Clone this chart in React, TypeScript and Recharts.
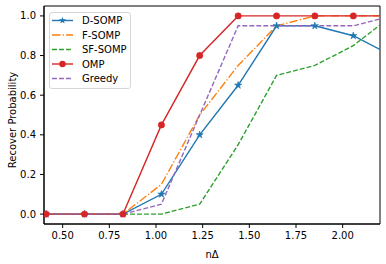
import React from "react";
import { LineChart, Line, XAxis, YAxis, Legend, ReferenceArea } from "recharts";

// nΔ sample points (the last one sits past the right edge and gets clipped)
const nDelta = [0.411, 0.617, 0.823, 1.029, 1.234, 1.44, 1.646, 1.851, 2.057, 2.263];
const dSomp = [0, 0, 0, 0.1, 0.4, 0.65, 0.95, 0.95, 0.9, 0.8];
const fSomp = [0, 0, 0, 0.15, 0.5, 0.75, 0.95, 1, 1, 1];
const sfSomp = [0, 0, 0, 0, 0.05, 0.35, 0.7, 0.75, 0.85, 1];
const omp = [0, 0, 0, 0.45, 0.8, 1, 1, 1, 1, 1];
const greedy = [0, 0, 0, 0.05, 0.5, 0.95, 0.95, 0.95, 0.95, 1];

const xTicks = [0.5, 0.75, 1, 1.25, 1.5, 1.75, 2];
const yTicks = [0, 0.2, 0.4, 0.6, 0.8, 1];

const data = nDelta.map((x, i) => ({
  x,
  dSomp: dSomp[i],
  fSomp: fSomp[i],
  sfSomp: sfSomp[i],
  omp: omp[i],
  greedy: greedy[i],
}));

const series = [
  { key: "dSomp", name: "D-SOMP", color: "#1f77b4", dash: undefined, marker: "star" },
  { key: "fSomp", name: "F-SOMP", color: "#ff7f0e", dash: "8.5 2.1 1.3 2.1", marker: null },
  { key: "sfSomp", name: "SF-SOMP", color: "#2ca02c", dash: "4.9 2.1", marker: null },
  { key: "omp", name: "OMP", color: "#d62728", dash: undefined, marker: "circle" },
  { key: "greedy", name: "Greedy", color: "#9467bd", dash: "4.9 2.1", marker: null },
];

function starPath(cx: number, cy: number, R: number) {
  const r = R * 0.382;
  let d = "";
  for (let i = 0; i < 10; i++) {
    const rad = i % 2 === 0 ? R : r;
    const a = -Math.PI / 2 + (i * Math.PI) / 5;
    d += (i === 0 ? "M" : "L") + (cx + rad * Math.cos(a)).toFixed(2) + "," + (cy + rad * Math.sin(a)).toFixed(2);
  }
  return d + "Z";
}

const StarDot = (props: any) => {
  const { cx, cy, stroke, index } = props;
  if (cx == null || cy == null) return null;
  return <path key={index} d={starPath(cx, cy, 3.8)} fill={stroke} stroke={stroke} strokeWidth={0.6} />;
};

const CircleDot = (props: any) => {
  const { cx, cy, stroke, index } = props;
  if (cx == null || cy == null) return null;
  return <circle key={index} cx={cx} cy={cy} r={3.2} fill={stroke} stroke={stroke} strokeWidth={0.5} />;
};

// legend drawn as svg so it uses the same text rendering as the axes
function LegendBox() {
  const rowH = 14.5;
  return (
    <svg width={82} height={77} style={{ display: "block" }}>
      <rect x={0.5} y={0.5} width={81} height={76} rx={2.5} fill="rgba(255,255,255,0.8)" stroke="#d6d6d6" />
      {series.map((s, i) => {
        const cy = 8.5 + i * rowH;
        return (
          <g key={s.key}>
            <line x1={3} y1={cy} x2={24} y2={cy} stroke={s.color} strokeWidth={1.4} strokeDasharray={s.dash} />
            {s.marker === "star" && <path d={starPath(13.5, cy, 3.8)} fill={s.color} />}
            {s.marker === "circle" && <circle cx={13.5} cy={cy} r={3.2} fill={s.color} />}
            <text x={33} y={cy} dy="0.35em" fontSize={10} fill="#000">
              {s.name}
            </text>
          </g>
        );
      })}
    </svg>
  );
}

const YLabel = (props: any) => {
  const { viewBox } = props;
  const x = viewBox.x + 12;
  const y = viewBox.y + viewBox.height / 2 + 5;
  return (
    <text x={x} y={y} transform={`rotate(-90, ${x}, ${y})`} textAnchor="middle" dy="0.35em" fontSize={10} fill="#000">
      Recover Probability
    </text>
  );
};

export default function App() {
  return (
    <div style={{ position: "absolute", left: 0, top: 0, fontFamily: "DejaVu Sans", background: "#fff" }}>
      <LineChart width={386} height={264} data={data} margin={{ top: 6, right: 6, left: 0, bottom: 0 }}>
        <XAxis
          dataKey="x"
          type="number"
          domain={[0.4, 2.2]}
          allowDataOverflow
          ticks={xTicks}
          tickFormatter={(v: number) => v.toFixed(2)}
          tick={{ fill: "#000", fontSize: 10 }}
          tickLine={{ stroke: "#000" }}
          axisLine={{ stroke: "#000" }}
          tickSize={4}
          tickMargin={4}
          height={40}
          label={{ value: "nΔ", position: "insideBottom", offset: 6, fill: "#000", fontSize: 10 }}
        />
        <YAxis
          type="number"
          domain={[-0.05, 1.05]}
          allowDataOverflow
          ticks={yTicks}
          tickFormatter={(v: number) => v.toFixed(1)}
          tick={{ fill: "#000", fontSize: 10 }}
          tickLine={{ stroke: "#000" }}
          axisLine={{ stroke: "#000" }}
          tickSize={4}
          tickMargin={4}
          width={44}
          label={<YLabel />}
        />
        <ReferenceArea x1={0.4} x2={2.2} y1={-0.05} y2={1.05} fill="none" stroke="#000" strokeWidth={1} />
        {series.map((s) => (
          <Line
            key={s.key}
            dataKey={s.key}
            name={s.name}
            type="linear"
            stroke={s.color}
            strokeWidth={1.4}
            strokeDasharray={s.dash}
            dot={s.marker === "star" ? <StarDot /> : s.marker === "circle" ? <CircleDot /> : false}
            activeDot={false}
            isAnimationActive={false}
          />
        ))}
        <Legend
          layout="vertical"
          align="center"
          verticalAlign="middle"
          content={() => <LegendBox />}
          wrapperStyle={{ left: 48.5, top: 11.5, width: "auto" }}
        />
      </LineChart>
    </div>
  );
}
